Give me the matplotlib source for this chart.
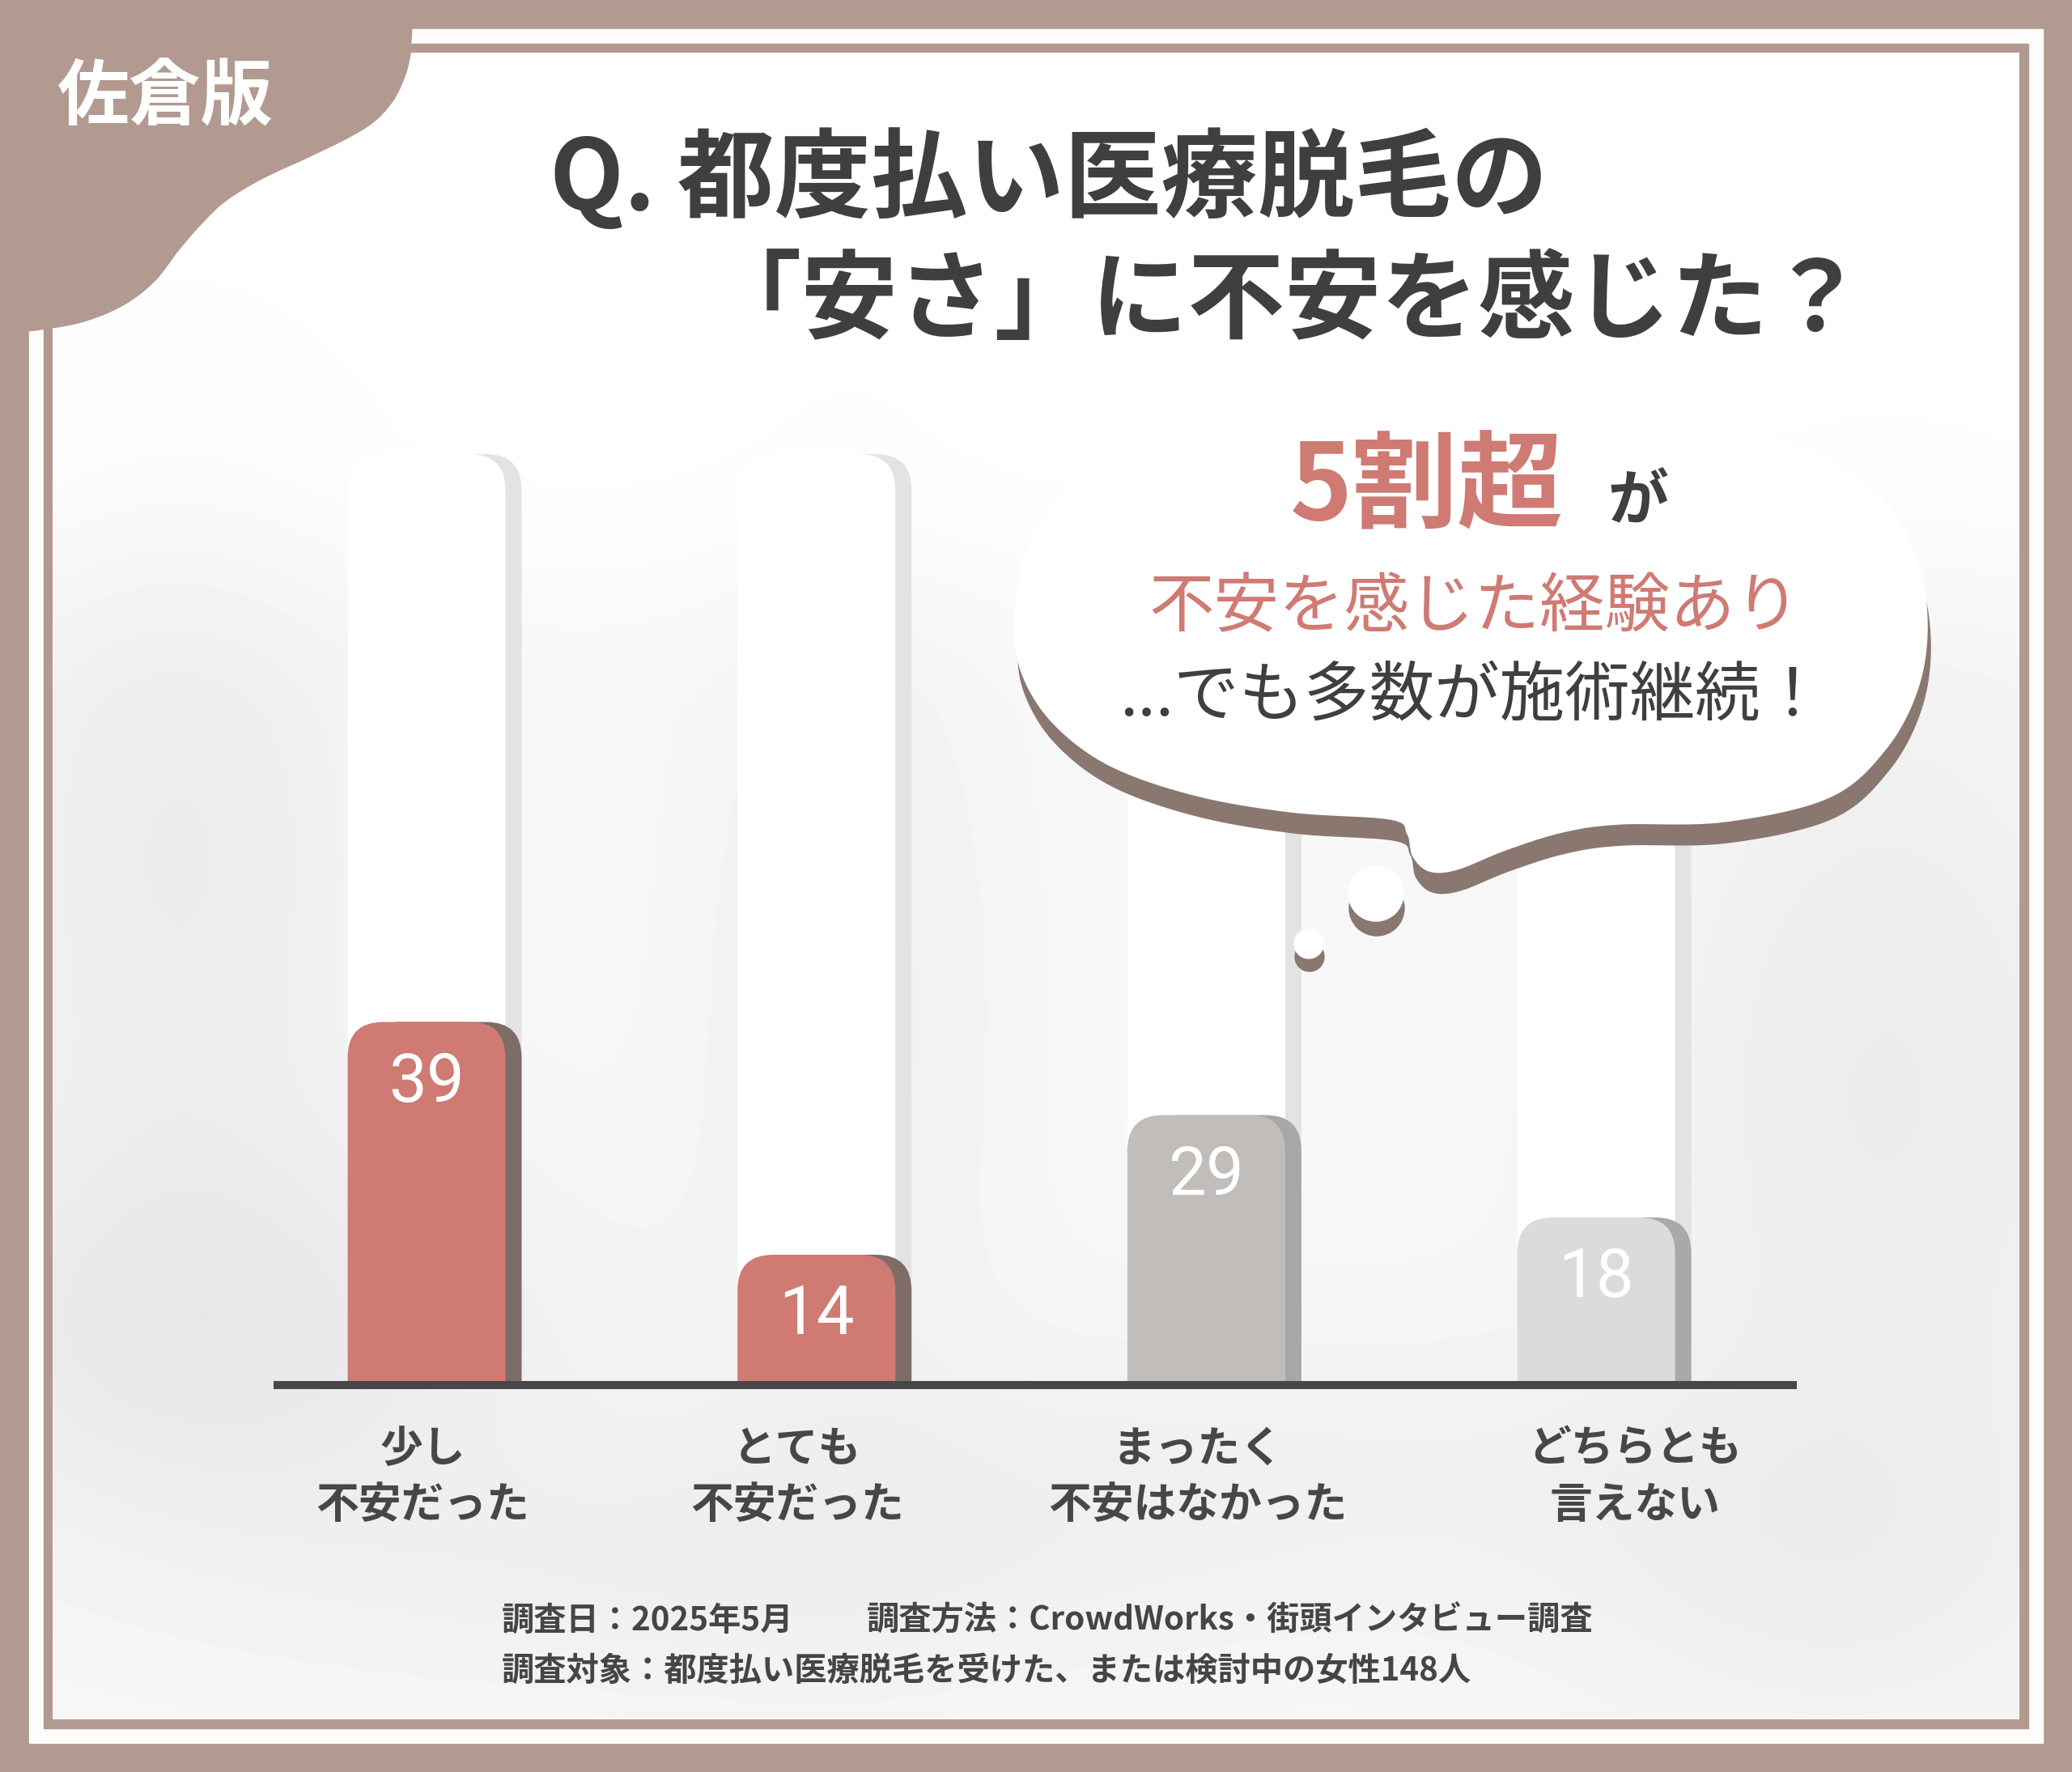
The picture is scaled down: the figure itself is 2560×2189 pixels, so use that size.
import numpy as np
import matplotlib
matplotlib.use("Agg")
import matplotlib.pyplot as plt
from matplotlib.patches import FancyBboxPatch, Polygon, Circle, Rectangle

# ---------------- data ----------------
categories = ["少し\n不安だった", "とても\n不安だった", "まったく\n不安はなかった", "どちらとも\n言えない"]
values = [39, 14, 29, 18]
track_max = 100
badge_text = "佐倉版"
title_line1 = "Q. 都度払い医療脱毛の"
title_line2 = "「安さ」に不安を感じた？"
bubble_big = "5割超"
bubble_ga = "が"
bubble_line2 = "不安を感じた経験あり"
bubble_line3 = "...でも多数が施術継続！"
footer_date = "調査日：2025年5月"
footer_method = "調査方法：CrowdWorks・街頭インタビュー調査"
footer_target = "調査対象：都度払い医療脱毛を受けた、または検討中の女性148人"

# ---------------- style ----------------
JP = ["Noto Sans CJK JP", "DejaVu Sans"]
NUM = ["Liberation Sans Narrow", "Roboto", "DejaVu Sans"]
BROWN = "#b29a91"
DARK = "#3f3f3f"
RED = "#cf7a73"
bar_colors = ["#cf7a73", "#cf7a73", "#c0bdbb", "#dcdbdb"]
shadow_colors = ["#7e6c66", "#7e6c66", "#a7a7a7", "#a9a9a9"]
TRACK_SH = "#e3e3e3"
BUBBLE_SH = "#8a7770"

W, H = 2560, 2189
fig = plt.figure(figsize=(W / 100, H / 100), dpi=100)


def catmull(pts, n=14, closed=True):
    P = np.asarray(pts, float)
    if not closed:
        P = np.vstack([P[0], P, P[-1]])
        rng = range(1, len(P) - 2)
    else:
        rng = range(len(P))
    N = len(P)
    out = []
    t = np.linspace(0, 1, n, endpoint=False)[:, None]
    for i in rng:
        p0, p1, p2, p3 = P[i - 1], P[i], P[(i + 1) % N], P[(i + 2) % N]
        out.append(0.5 * ((2 * p1) + (-p0 + p2) * t + (2 * p0 - 5 * p1 + 4 * p2 - p3) * t ** 2
                          + (-p0 + 3 * p1 - 3 * p2 + p3) * t ** 3))
    if not closed:
        out.append(P[-2][None, :])
    return np.vstack(out)


# ---------------- background / frame ----------------
bg = fig.add_axes([0, 0, 1, 1], zorder=0)
bg.axis("off")
bg.add_patch(Rectangle((0, 0), W, H, color=BROWN, zorder=0))
bg.add_patch(Rectangle((36, 36), 2524 - 36, 2153 - 36, color="#fdfcfb", zorder=0.5))
bg.add_patch(Rectangle((54, 54), 2506 - 54, 2135 - 54, color=BROWN, zorder=0.6))

Hg, Wg = 220, 256
yy, xx = np.mgrid[0:Hg, 0:Wg]
X = 65 + (xx + 0.5) / Wg * (2495 - 65)
Y = 65 + (yy + 0.5) / Hg * (2124 - 65)
ramp = np.clip((Y - 520) / 380, 0, 1)
ramp = ramp * ramp * (3 - 2 * ramp)
field = 1 - 0.03 * ramp
for cx, cy, sx, sy, a in [(220, 1050, 180, 320, 0.045), (260, 1650, 300, 180, 0.055),
                          (1050, 1250, 130, 380, 0.03), (2330, 1350, 220, 380, 0.045),
                          (1500, 1820, 500, 140, 0.025), (850, 1950, 400, 110, 0.025),
                          (2250, 1950, 250, 160, 0.025)]:
    field -= a * np.exp(-(((X - cx) / sx) ** 2 + ((Y - cy) / sy) ** 2) / 2)
bg.imshow(field, cmap="gray", vmin=0, vmax=1, extent=(65, 2495, 2124, 65),
          interpolation="bicubic", aspect="auto", zorder=1)

blob_edge = [(509, 30), (508, 50), (506, 72), (499, 97), (485, 125), (462, 150), (430, 170),
             (383, 193), (325, 220), (280, 247), (250, 275), (222, 307), (190, 348), (150, 378),
             (100, 398), (50, 407), (30, 409)]
edge = catmull(blob_edge, closed=False)
blob = np.vstack([edge, [(0, 409), (0, 0), (509, 0)]])
bg.add_patch(Polygon(blob, closed=True, color=BROWN, zorder=2))
bg.text(204, 122, badge_text, family=JP, fontsize=64, fontweight="bold", color="white",
        ha="center", va="center", zorder=3)
bg.set_xlim(0, W)
bg.set_ylim(H, 0)

# ---------------- chart axes ----------------
px_per_unit_x = 481.7
px_per_unit_y = 11.5
x0_px, base_px = 527, 1711
left_px, right_px = 338, 2220
ymax = 103
ax = fig.add_axes([left_px / W, (H - base_px) / H, (right_px - left_px) / W,
                   px_per_unit_y * ymax / H], zorder=1)
ax.set_facecolor("none")
ax.set_xlim((left_px - x0_px) / px_per_unit_x, (right_px - x0_px) / px_per_unit_x)
ax.set_ylim(0, ymax)
for s in ["top", "left", "right"]:
    ax.spines[s].set_visible(False)
ax.spines["bottom"].set_color("#474747")
ax.spines["bottom"].set_linewidth(7.2)
ax.spines["bottom"].set_capstyle("butt")
ax.set_xticks([])
ax.set_yticks([])

bw = 195 / px_per_unit_x
sh = 20 / px_per_unit_x
rad = 44 / px_per_unit_x
asp = px_per_unit_x / px_per_unit_y


def rbar(x_left, top, color, z):
    p = FancyBboxPatch((x_left, -8), bw, top + 8,
                       boxstyle=f"round,pad=0,rounding_size={rad}",
                       mutation_aspect=asp, facecolor=color, edgecolor="none", zorder=z)
    ax.add_patch(p)


for i, v in enumerate(values):
    rbar(i - bw / 2 + sh, track_max, TRACK_SH, 1)
    rbar(i - bw / 2, track_max, "#ffffff", 1.1)
for i, v in enumerate(values):
    rbar(i - bw / 2 + sh, v, shadow_colors[i], 1.5)
    rbar(i - bw / 2, v, bar_colors[i], 1.6)
    ax.annotate(str(v), xy=(i, v), xytext=(0, -75 * 0.72), textcoords="offset points",
                ha="center", va="center", family=NUM, fontsize=60, color="white", zorder=3)

label_dx_px = [-5, -24, -11, 48]
for i, c in enumerate(categories):
    ax.annotate(c, xy=(i, 0), xytext=(label_dx_px[i] * 0.72, -38), textcoords="offset points",
                ha="center", va="top", family=JP, fontsize=38, fontweight="bold",
                color="#474747", linespacing=1.38, annotation_clip=False)

# ---------------- overlay: bubble, titles, footer ----------------
ov = fig.add_axes([0, 0, 1, 1], zorder=2)
ov.set_facecolor("none")
ov.axis("off")
ov.set_xlim(0, W)
ov.set_ylim(H, 0)

bubble_pts = [(1796, 506), (2041, 514), (2204, 547), (2319, 610), (2366, 686), (2381, 767),
              (2370, 849), (2330, 925), (2260, 985), (2130, 1015), (2000, 1018), (1930, 1028),
              (1860, 1050), (1800, 1074), (1766, 1076), (1746, 1058), (1739, 1030), (1718, 1012),
              (1595, 1003), (1475, 982), (1370, 945), (1300, 892), (1262, 830), (1254, 767),
              (1266, 686), (1306, 622), (1388, 560), (1551, 519)]
outline = catmull(bubble_pts)
ov.add_patch(Polygon(outline + np.array([4, 26]), closed=True, color=BUBBLE_SH, zorder=1))
ov.add_patch(Polygon(outline, closed=True, color="white", zorder=2))
ov.add_patch(Circle((1701, 1122), 34, color=BUBBLE_SH, zorder=1))
ov.add_patch(Circle((1700, 1104), 34, color="white", zorder=2))
ov.add_patch(Circle((1618, 1182), 18, color=BUBBLE_SH, zorder=1))
ov.add_patch(Circle((1617, 1166), 18, color="white", zorder=2))

ov.text(1763, 604, bubble_big, family=JP, fontsize=94, fontweight="bold", color=RED,
        ha="center", va="center", zorder=3)
ov.text(2024, 619, bubble_ga, family=JP, fontsize=54, fontweight="bold", color=DARK,
        ha="center", va="center", zorder=3)
ov.text(1822, 751, bubble_line2, family=JP, fontsize=58, color=RED,
        ha="center", va="center", zorder=3)
ov.text(1819, 860, bubble_line3, family=JP, fontsize=58, color=DARK,
        ha="center", va="center", zorder=3)

ov.text(1296, 222, title_line1, family=JP, fontsize=86, fontweight="bold", color=DARK,
        ha="center", va="center", zorder=3)
ov.text(1588, 374, title_line2, family=JP, fontsize=86, fontweight="bold", color=DARK,
        ha="center", va="center", zorder=3)

ov.text(620, 2002, footer_date, family=JP, fontsize=29, fontweight="bold", color="#454545",
        ha="left", va="center", zorder=3)
ov.text(1071, 2002, footer_method, family=JP, fontsize=29, fontweight="bold", color="#454545",
        ha="left", va="center", zorder=3)
ov.text(620, 2064, footer_target, family=JP, fontsize=29, fontweight="bold", color="#454545",
        ha="left", va="center", zorder=3)

fig.savefig("out.png", dpi=100)
